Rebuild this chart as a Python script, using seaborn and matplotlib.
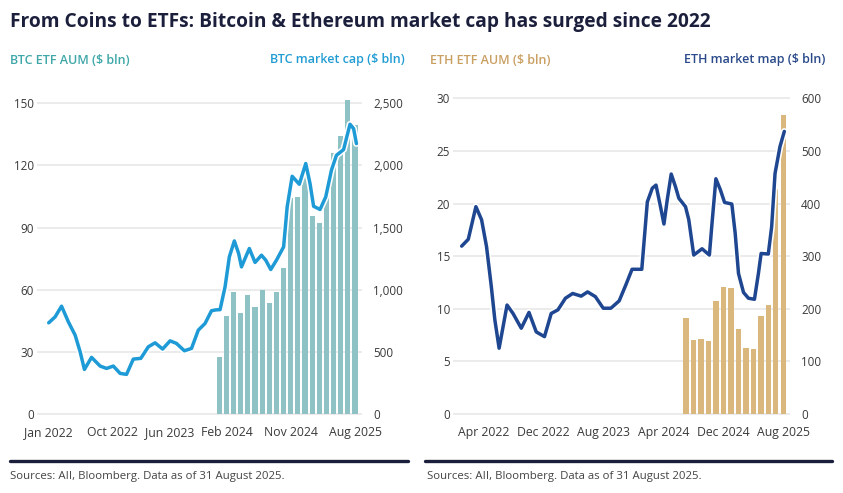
import numpy as np
import pandas as pd
import matplotlib
matplotlib.use("Agg")
import matplotlib.pyplot as plt
import matplotlib.patheffects as pe
from matplotlib.lines import Line2D
import seaborn as sns

# ---------------- data ----------------
months = pd.period_range("2022-01", "2025-08", freq="M")  # month categories (index 0..43)

# BTC ETF AUM ($ bln), monthly Jan 2024 .. Aug 2025
btc_aum_months = [str(p) for p in pd.period_range("2024-01", "2025-08", freq="M")]
btc_aum = [27.6, 47.4, 59.0, 48.9, 57.7, 51.8, 59.8, 53.4, 59.0, 70.3,
           104.5, 104.8, 119.0, 95.5, 92.3, 108.0, 126.0, 134.0, 151.5, 139.4]

# BTC market cap ($ bln), time in months since Jan 2022
btc_cap_t = [0.1, 1, 1.9, 2.85, 3.8, 4.5, 5.1, 6.1, 7.3, 8.2, 9.15, 10.1, 11, 11.95,
             13, 14.05, 15, 16.05, 17.1, 18, 19.1, 20.1, 21.05, 22, 22.9, 23.5, 24.1,
             24.8, 25.4, 26.1, 26.7, 27.1, 27.7, 28.2, 29, 29.9, 30.5, 31.2, 32, 33,
             33.5, 34.2, 35.2, 36.1, 36.7, 37.2, 38.1, 38.9, 39.7, 40.4, 41.4, 42.3,
             42.8, 43.2]
btc_cap = [734, 782, 868, 742, 635, 501, 359, 456, 386, 367, 386, 327, 319, 442,
           448, 541, 573, 523, 589, 568, 509, 528, 675, 729, 831, 838, 840,
           1023, 1265, 1393, 1292, 1184, 1265, 1332, 1220, 1278, 1238, 1163, 1238, 1345,
           1667, 1913, 1849, 2016, 1855, 1672, 1646, 1747, 1962, 2082, 2128, 2332,
           2297, 2176]

# ETH ETF AUM ($ bln), monthly Jul 2024 .. Aug 2025
eth_aum_months = [str(p) for p in pd.period_range("2024-07", "2025-08", freq="M")]
eth_aum = [9.09, 7.03, 7.16, 6.94, 10.77, 12.1, 12.0, 8.11, 6.3, 6.21, 9.31, 10.36, 21.35, 28.41]

# ETH market cap ($ bln), time in months since Jan 2022
eth_cap_t = [0.04, 0.92, 1.94, 2.7, 3.36, 4.0, 4.47, 5.04, 5.57, 6.1, 6.9, 8.0, 9.03, 10.0,
             11.1, 12.0, 12.9, 13.9, 14.87, 16.0, 16.86, 17.9, 18.95, 19.97, 21.08, 21.96,
             22.8, 24.1, 24.84, 25.5, 26.0, 26.6, 27.06, 27.5, 28.03, 28.6, 29.05, 29.94,
             30.38, 31.04, 32.15, 33.13, 33.48, 34.0, 34.6, 35.16, 36.13, 36.58, 37.02,
             37.69, 38.35, 39.15, 39.68, 40.04, 41.0, 41.45, 41.9, 42.56, 43.14]
eth_cap = [319, 332, 394, 369, 318, 242, 179, 125, 166, 207, 191, 163, 193, 156,
           147, 191, 198, 220, 229, 224, 232, 223, 201, 201, 215, 245,
           275, 275, 403, 429, 435, 394, 361, 407, 456, 432, 410, 394,
           369, 302, 314, 302, 362, 447, 426, 402, 399, 343, 267,
           231, 220, 218, 267, 305, 304, 356, 457, 508, 537]

btc_ticks = ["2022-01", "2022-10", "2023-06", "2024-02", "2024-11", "2025-08"]
eth_ticks = ["2022-04", "2022-12", "2023-08", "2024-04", "2024-12", "2025-08"]
btc_left_ticks = [0, 30, 60, 90, 120, 150]
btc_right_ticks = [0, 500, 1000, 1500, 2000, 2500]
eth_left_ticks = [0, 5, 10, 15, 20, 25, 30]
eth_right_ticks = [0, 100, 200, 300, 400, 500, 600]

title = "From Coins to ETFs: Bitcoin & Ethereum market cap has surged since 2022"
source = "Sources: AII, Bloomberg. Data as of 31 August 2025."

# ---------------- style ----------------
sns.set_theme(style="white")
plt.rcParams["font.family"] = ["Open Sans", "DejaVu Sans"]

NAVY = "#1b1f3b"
BTC_BAR = "#8fc2c5"
BTC_LINE = "#1e9bd6"
ETH_BAR = "#d9b77d"
ETH_LINE = "#1f4690"
GRID = "#e6e6e6"
TICK = "#3a3a3a"

W, H = 843, 493
fig = plt.figure(figsize=(W / 100, H / 100), dpi=100)

month_idx = {str(p): i for i, p in enumerate(months)}


def fx(px):
    return px / W


def fy(py):
    return 1 - py / H


def make_panel(x0, x1, xlim, ylim_left, scale, left_ticks, right_ticks,
               bar_months, bar_vals, bar_color, line_t, line_v, line_color, tick_months):
    top, bottom = 93, 416.1
    ax = fig.add_axes([fx(x0), fy(bottom), fx(x1) - fx(x0), (bottom - top) / H])
    bx = [month_idx[m] for m in bar_months]
    sns.barplot(x=bx, y=bar_vals, native_scale=True, color=bar_color, width=0.72,
                saturation=1, linewidth=0, edgecolor="none", ax=ax, zorder=2)
    ax.set_xlim(*xlim)
    ax.set_ylim(*ylim_left)
    ax.set_yticks(left_ticks)
    ax.set_yticklabels([f"{v:,}" for v in left_ticks])
    ax.grid(axis="y", color=GRID, linewidth=1.1, zorder=0)
    ax.set_axisbelow(True)
    for s in ax.spines.values():
        s.set_visible(False)
    ax.set_xticks([month_idx[m] for m in tick_months])
    ax.set_xticklabels([pd.Period(m).strftime("%b %Y") for m in tick_months])
    ax.set_xticks(range(len(months)), minor=True)
    ax.tick_params(axis="x", which="both", length=4, color="#cfcfcf", width=0.8,
                   labelsize=8.8, labelcolor=TICK, pad=3)
    ax.tick_params(axis="y", length=0, labelsize=8.4, labelcolor=TICK, pad=2)
    ax.set_xlabel("")
    ax.set_ylabel("")

    ax2 = ax.twinx()
    sns.lineplot(x=line_t, y=line_v, ax=ax2, color=line_color, linewidth=2.5,
                 solid_joinstyle="round", solid_capstyle="round",
                 path_effects=[pe.Stroke(linewidth=4.8, foreground="white"), pe.Normal()])
    ax2.set_ylim(ylim_left[0] * scale, ylim_left[1] * scale)
    ax2.set_yticks(right_ticks)
    ax2.set_yticklabels([f"{v:,}" for v in right_ticks])
    ax2.tick_params(axis="y", length=0, labelsize=8.4, labelcolor=TICK, pad=8)
    ax2.grid(False)
    for s in ax2.spines.values():
        s.set_visible(False)
    ax2.set_xlim(*xlim)
    ax2.set_ylabel("")
    return ax, ax2


make_panel(37, 362, (-1.54, 43.98), (-1.0, 155.0), 500 / 30, btc_left_ticks, btc_right_ticks,
           btc_aum_months, btc_aum, BTC_BAR, btc_cap_t, btc_cap, BTC_LINE, btc_ticks)
make_panel(453, 790, (-1.12, 43.9), (-0.2, 30.5), 20, eth_left_ticks, eth_right_ticks,
           eth_aum_months, eth_aum, ETH_BAR, eth_cap_t, eth_cap, ETH_LINE, eth_ticks)

# ---------------- texts ----------------
fig.text(fx(10), fy(22), title, ha="left", va="center", fontsize=13.8,
         fontweight="bold", color=NAVY)
fig.text(fx(10), fy(60), "BTC ETF AUM ($ bln)", ha="left", va="center", fontsize=9.0,
         fontweight="semibold", color="#3fa7a8")
fig.text(fx(405), fy(60), "BTC market cap ($ bln)", ha="right", va="center", fontsize=9.0,
         fontweight="semibold", color="#229dd4")
fig.text(fx(430), fy(60), "ETH ETF AUM ($ bln)", ha="left", va="center", fontsize=9.0,
         fontweight="semibold", color="#c9a062")
fig.text(fx(825), fy(60), "ETH market map ($ bln)", ha="right", va="center", fontsize=9.0,
         fontweight="semibold", color="#2a4a8a")

for (a, b) in [(10, 408), (425, 832)]:
    fig.add_artist(Line2D([fx(a), fx(b)], [fy(461), fy(461)], color=NAVY, linewidth=2.4,
                          transform=fig.transFigure))
fig.text(fx(10), fy(477), source, ha="left", va="center", fontsize=8.2, color="#444444")
fig.text(fx(427), fy(477), source, ha="left", va="center", fontsize=8.2, color="#444444")

fig.savefig("out.png", dpi=100, facecolor="white")
